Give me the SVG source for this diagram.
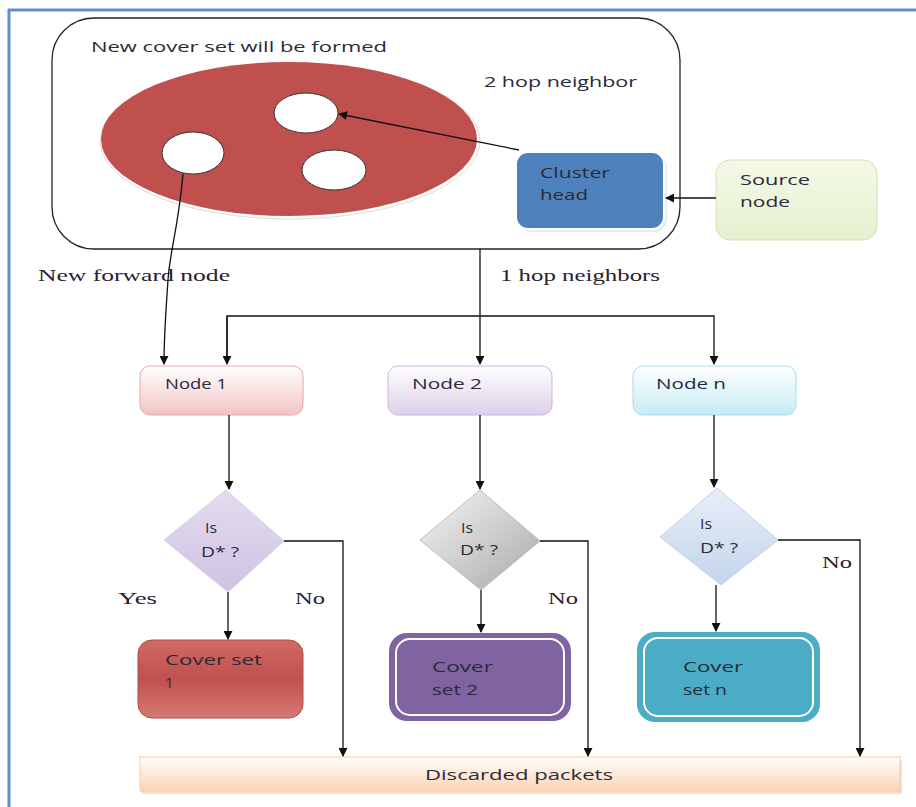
<svg xmlns="http://www.w3.org/2000/svg" width="916" height="807" viewBox="0 0 916 807">
<defs>
<style>
.t{font-family:"Open Sans","Liberation Sans",sans-serif;font-size:15px;fill:#2a2a3a}
.s{font-family:"Liberation Serif","Times New Roman",serif;font-size:16px;fill:#2a2030}
.ln{fill:none;stroke:#111;stroke-width:1.3}
</style>
<marker id="ah" viewBox="0 0 10 10" refX="9" refY="5" markerWidth="9" markerHeight="9" markerUnits="userSpaceOnUse" orient="auto"><path d="M0,0 L10,5 L0,10 z" fill="#111"/></marker>
<linearGradient id="gPink" x1="0" y1="0" x2="0" y2="1"><stop offset="0" stop-color="#fff"/><stop offset="1" stop-color="#f0c4c4"/></linearGradient>
<linearGradient id="gLav" x1="0" y1="0" x2="0" y2="1"><stop offset="0" stop-color="#fff"/><stop offset="1" stop-color="#dcd0e8"/></linearGradient>
<linearGradient id="gCyan" x1="0" y1="0" x2="0" y2="1"><stop offset="0" stop-color="#fff"/><stop offset="1" stop-color="#c6ebf3"/></linearGradient>
<linearGradient id="gGreen" x1="0" y1="0" x2="0" y2="1"><stop offset="0" stop-color="#f4f9e8"/><stop offset="1" stop-color="#e6f0cf"/></linearGradient>
<linearGradient id="gD1" x1="0" y1="0" x2="0" y2="1"><stop offset="0" stop-color="#e4dcf0"/><stop offset="1" stop-color="#cfc2e2"/></linearGradient>
<linearGradient id="gD2" x1="0" y1="0" x2="1" y2="1"><stop offset="0" stop-color="#f6f6f6"/><stop offset="1" stop-color="#a8a8a8"/></linearGradient>
<linearGradient id="gD3" x1="0" y1="0" x2="0" y2="1"><stop offset="0" stop-color="#e8eef8"/><stop offset="1" stop-color="#c4d4ec"/></linearGradient>
<linearGradient id="gRed" x1="0" y1="0" x2="0" y2="1"><stop offset="0" stop-color="#d06a66"/><stop offset="0.5" stop-color="#c0504d"/><stop offset="1" stop-color="#d67a76"/></linearGradient>
<linearGradient id="gPeach" x1="0" y1="0" x2="0" y2="1"><stop offset="0" stop-color="#fff"/><stop offset="1" stop-color="#fbd3b2"/></linearGradient>
</defs>

<!-- frame -->
<line x1="8" y1="10" x2="916" y2="10" stroke="#5b8fd0" stroke-width="3"/>
<line x1="9" y1="9" x2="9" y2="807" stroke="#5b8fd0" stroke-width="3"/>

<g id="cluster-area">
<rect x="52" y="18" width="628" height="231" rx="42" fill="#fff" stroke="#222" stroke-width="1.3"/>
<text class="t" x="91" y="52" textLength="296" lengthAdjust="spacingAndGlyphs">New cover set will be formed</text>
<text class="t" x="484" y="87" textLength="153" lengthAdjust="spacingAndGlyphs">2 hop neighbor</text>
<ellipse cx="290" cy="141" rx="190" ry="78" fill="#fff" stroke="#ddd"/>
<ellipse cx="289" cy="139" rx="188" ry="77" fill="#c0504d"/>
<ellipse id="n-top" cx="306" cy="113" rx="32" ry="20" fill="#fff" stroke="#333"/>
<ellipse id="n-left" cx="193" cy="153" rx="31" ry="21" fill="#fff" stroke="#333"/>
<ellipse id="n-right" cx="334" cy="170" rx="32" ry="20" fill="#fff" stroke="#333"/>
</g>

<g id="cluster-head">
<rect x="519" y="155" width="148" height="77" rx="12" fill="#e8eef6"/>
<rect x="516" y="152" width="148" height="77" rx="12" fill="#4f81bd" stroke="#fff" stroke-width="2"/>
<text class="t" x="540" y="178" textLength="70" lengthAdjust="spacingAndGlyphs">Cluster</text>
<text class="t" x="540" y="200" textLength="48" lengthAdjust="spacingAndGlyphs">head</text>
</g>

<g id="source-node">
<rect x="716" y="160" width="161" height="80" rx="14" fill="url(#gGreen)" stroke="#d3e2b5"/>
<text class="t" x="740" y="185" textLength="70" lengthAdjust="spacingAndGlyphs">Source</text>
<text class="t" x="740" y="207" textLength="50" lengthAdjust="spacingAndGlyphs">node</text>
</g>

<g id="node1">
<rect x="140" y="366" width="163" height="49" rx="10" fill="url(#gPink)" stroke="#e4a8a8"/>
<text class="t" x="165" y="389" textLength="62" lengthAdjust="spacingAndGlyphs">Node 1</text>
</g>
<g id="node2">
<rect x="388" y="366" width="164" height="49" rx="10" fill="url(#gLav)" stroke="#c8b8dc"/>
<text class="t" x="412" y="389" textLength="70" lengthAdjust="spacingAndGlyphs">Node 2</text>
</g>
<g id="noden">
<rect x="633" y="366" width="163" height="49" rx="10" fill="url(#gCyan)" stroke="#a8dcea"/>
<text class="t" x="656" y="389" textLength="70" lengthAdjust="spacingAndGlyphs">Node n</text>
</g>

<g id="decision1">
<polygon points="226,490 284,541 228,592 164,540" fill="url(#gD1)" stroke="#d8d0e6"/>
<text class="t" x="205" y="533" textLength="12" lengthAdjust="spacingAndGlyphs">Is</text>
<text class="t" x="201" y="557" textLength="38" lengthAdjust="spacingAndGlyphs">D* ?</text>
</g>
<g id="decision2">
<polygon points="480,490 540,541 481,590 420,540" fill="url(#gD2)" stroke="#bbb"/>
<text class="t" x="461" y="533" textLength="12" lengthAdjust="spacingAndGlyphs">Is</text>
<text class="t" x="460" y="555" textLength="38" lengthAdjust="spacingAndGlyphs">D* ?</text>
</g>
<g id="decision3">
<polygon points="717,488 778,540 721,585 660,537" fill="url(#gD3)" stroke="#c4d2e8"/>
<text class="t" x="700" y="529" textLength="12" lengthAdjust="spacingAndGlyphs">Is</text>
<text class="t" x="700" y="553" textLength="38" lengthAdjust="spacingAndGlyphs">D* ?</text>
</g>

<g id="cover1">
<rect x="138" y="640" width="165" height="78" rx="14" fill="url(#gRed)" stroke="#b84844"/>
<text class="t" x="165" y="665" textLength="97" lengthAdjust="spacingAndGlyphs">Cover set</text>
<text class="t" x="165" y="688">1</text>
</g>
<g id="cover2">
<rect x="389" y="633" width="182" height="88" rx="18" fill="#8064a2"/>
<rect x="396" y="639" width="168" height="76" rx="14" fill="#8064a2" stroke="#fff" stroke-width="2"/>
<text class="t" x="432" y="672" textLength="61" lengthAdjust="spacingAndGlyphs">Cover</text>
<text class="t" x="432" y="695" textLength="46" lengthAdjust="spacingAndGlyphs">set 2</text>
</g>
<g id="covern">
<rect x="637" y="632" width="183" height="90" rx="18" fill="#4bacc6"/>
<rect x="644" y="638" width="169" height="78" rx="14" fill="#4bacc6" stroke="#fff" stroke-width="2"/>
<text class="t" x="683" y="672" textLength="60" lengthAdjust="spacingAndGlyphs">Cover</text>
<text class="t" x="683" y="695" textLength="44" lengthAdjust="spacingAndGlyphs">set n</text>
</g>

<g id="discarded">
<rect x="142" y="760" width="760" height="34" fill="#f3c8a8" opacity="0.6"/>
<rect x="140" y="757" width="760" height="34" fill="url(#gPeach)" stroke="#f6cba8"/>
<text class="t" x="425" y="780" textLength="188" lengthAdjust="spacingAndGlyphs">Discarded packets</text>
</g>

<g id="labels">
<text class="s" x="38" y="281" textLength="192" lengthAdjust="spacingAndGlyphs">New forward node</text>
<text class="s" x="500" y="281" textLength="160" lengthAdjust="spacingAndGlyphs">1 hop neighbors</text>
<text class="s" x="118" y="604" textLength="39" lengthAdjust="spacingAndGlyphs">Yes</text>
<text class="s" x="295" y="604" textLength="30" lengthAdjust="spacingAndGlyphs">No</text>
<text class="s" x="548" y="604" textLength="30" lengthAdjust="spacingAndGlyphs">No</text>
<text class="s" x="822" y="568" textLength="30" lengthAdjust="spacingAndGlyphs">No</text>
</g>

<g id="connectors">
<path class="ln" d="M716,198 L666,198" marker-end="url(#ah)"/>
<path class="ln" d="M519,150 L339,114" marker-end="url(#ah)"/>
<path class="ln" d="M183,174 C178,230 170,250 168,280 C166,310 164,335 164,364" marker-end="url(#ah)"/>
<path class="ln" d="M480,249 L480,364" marker-end="url(#ah)"/>
<path class="ln" d="M227,364 L227,316 L714,316 L714,364" marker-end="url(#ah)"/>
<path class="ln" d="M227,316 L227,364" marker-end="url(#ah)"/>
<path class="ln" d="M229,415 L229,489" marker-end="url(#ah)"/>
<path class="ln" d="M480,415 L480,489" marker-end="url(#ah)"/>
<path class="ln" d="M714,415 L714,487" marker-end="url(#ah)"/>
<path class="ln" d="M228,592 L228,639" marker-end="url(#ah)"/>
<path class="ln" d="M481,590 L481,632" marker-end="url(#ah)"/>
<path class="ln" d="M716,585 L716,631" marker-end="url(#ah)"/>
<path class="ln" d="M284,541 L343,541 L343,756" marker-end="url(#ah)"/>
<path class="ln" d="M540,541 L588,541 L588,756" marker-end="url(#ah)"/>
<path class="ln" d="M778,540 L860,540 L860,756" marker-end="url(#ah)"/>
</g>
</svg>
